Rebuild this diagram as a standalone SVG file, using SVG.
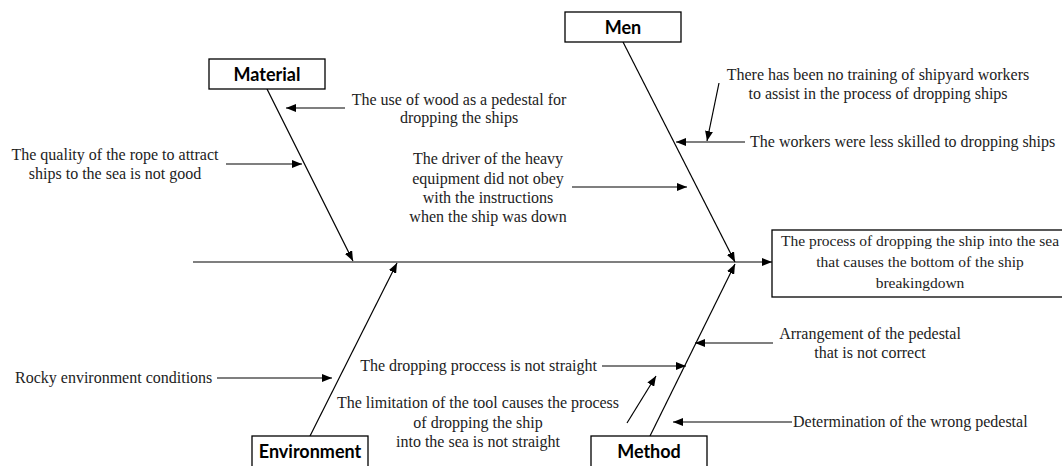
<svg xmlns="http://www.w3.org/2000/svg" width="1062" height="466" viewBox="0 0 1062 466">
<style>
.box{fill:#fff;stroke:#000;stroke-width:1.3}
.lbl{font-family:Lato,"Liberation Sans",sans-serif;font-weight:bold;font-size:18px;fill:#000;text-anchor:middle}
.t{font-family:"Liberation Serif",serif;font-size:16px;fill:#222;text-anchor:middle}
.ts{font-family:"Liberation Serif",serif;font-size:16px;fill:#222;text-anchor:start}
.te{font-family:"Liberation Serif",serif;font-size:16px;fill:#222;text-anchor:end}
.ef{font-family:"Liberation Serif",serif;font-size:15.5px;fill:#222;text-anchor:middle}
.ar{stroke:#000;stroke-width:1.2;fill:none;marker-end:url(#ah)}
</style>
<defs>
<marker id="ah" viewBox="0 0 10 8" refX="10" refY="4" markerWidth="10" markerHeight="8" markerUnits="userSpaceOnUse" orient="auto">
<path d="M0,0 L10,4 L0,8 Z" fill="#000"/>
</marker>
</defs>
<rect width="1062" height="466" fill="#fff"/>
<g id="connectors">
<line class="ar" x1="193" y1="262" x2="772" y2="262"/>
<line class="ar" x1="267" y1="89" x2="353" y2="261"/>
<line class="ar" x1="623" y1="42" x2="735" y2="262"/>
<line class="ar" x1="310" y1="436" x2="397" y2="263"/>
<line class="ar" x1="650" y1="436" x2="735" y2="264"/>
<line class="ar" x1="345" y1="108" x2="286" y2="108"/>
<line class="ar" x1="226" y1="164" x2="302" y2="164"/>
<line class="ar" x1="572" y1="187" x2="687" y2="187"/>
<line class="ar" x1="745" y1="142" x2="676" y2="142"/>
<line class="ar" x1="719" y1="83" x2="707" y2="141"/>
<line class="ar" x1="217" y1="378" x2="332" y2="378"/>
<line class="ar" x1="602" y1="366" x2="686" y2="366"/>
<line class="ar" x1="627" y1="423" x2="656" y2="376"/>
<line class="ar" x1="773" y1="343" x2="695" y2="343"/>
<line class="ar" x1="792" y1="422" x2="673" y2="422"/>
</g>
<g id="material"><rect class="box" x="209" y="59" width="116" height="30"/><text class="lbl" x="267" y="81">Material</text></g>
<g id="men"><rect class="box" x="565" y="12" width="116" height="30"/><text class="lbl" x="623" y="34">Men</text></g>
<g id="environment"><rect class="box" x="252" y="436" width="116" height="34"/><text class="lbl" x="310" y="458">Environment</text></g>
<g id="method"><rect class="box" x="591" y="436" width="116" height="34"/><text class="lbl" x="649" y="458">Method</text></g>
<g id="effect"><rect class="box" x="772" y="230" width="302" height="67"/>
<text class="ef" x="920" y="246">The process of dropping the ship into the sea</text>
<text class="ef" x="920" y="267">that causes the bottom of the ship</text>
<text class="ef" x="920" y="288">breakingdown</text></g>
<g id="cause-wood"><text class="t" x="459" y="105">The use of wood as a pedestal for</text><text class="t" x="459" y="123">dropping the ships</text></g>
<g id="cause-rope"><text class="t" x="115" y="160">The quality of the rope to attract</text><text class="t" x="115" y="179">ships to the sea is not good</text></g>
<g id="cause-driver"><text class="t" x="488" y="164">The driver of the heavy</text><text class="t" x="488" y="184">equipment did not obey</text><text class="t" x="488" y="203">with the instructions</text><text class="t" x="488" y="222">when the ship was down</text></g>
<g id="cause-training"><text class="t" x="878" y="80">There has been no training of shipyard workers</text><text class="t" x="878" y="99">to assist in the process of dropping ships</text></g>
<g id="cause-skilled"><text class="ts" x="750" y="147">The workers were less skilled to dropping ships</text></g>
<g id="cause-rocky"><text class="ts" x="15" y="383">Rocky environment conditions</text></g>
<g id="cause-dropping"><text class="te" x="597" y="371">The dropping proccess is not straight</text></g>
<g id="cause-limitation"><text class="t" x="478" y="408">The limitation of the tool causes the process</text><text class="t" x="478" y="428">of dropping the ship</text><text class="t" x="478" y="447">into the sea is not straight</text></g>
<g id="cause-arrangement"><text class="t" x="870" y="339">Arrangement of the pedestal</text><text class="t" x="870" y="358">that is not correct</text></g>
<g id="cause-determination"><text class="ts" x="793" y="427">Determination of the wrong pedestal</text></g>
</svg>
